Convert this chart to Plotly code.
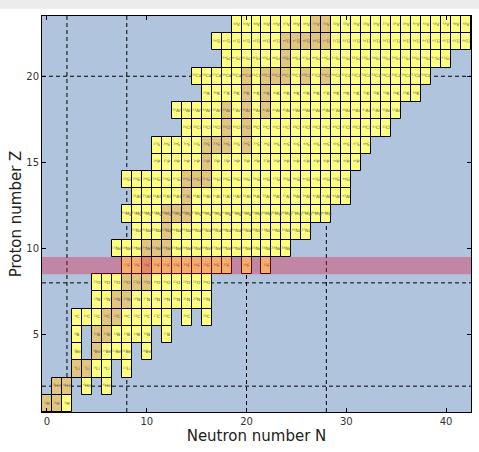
import plotly.graph_objects as go

# ---- data ----
symbols = ["H", "He", "Li", "Be", "B", "C", "N", "O", "F", "Ne", "Na", "Mg",
           "Al", "Si", "P", "S", "Cl", "Ar", "K", "Ca", "Sc", "Ti", "V"]
proton_Z = list(range(1, 24))
# first and last neutron number drawn in each row
n_first = [0, 1, 3, 3, 3, 3, 5, 5, 8, 7, 9, 8, 9, 8, 11, 11, 14, 13, 16, 15, 18, 17, 19]
n_last = [2, 6, 8, 10, 12, 16, 16, 16, 22, 24, 26, 28, 30, 30, 31, 32, 34, 35, 37, 38, 40, 42, 42]
# neutron numbers missing inside a row (gaps)
n_missing = {
    "He": [3, 5],
    "Li": [7],
    "Be": [4, 9],
    "B": [4, 11],
    "C": [13, 15],
    "F": [19, 21],
}
# stable isotopes (tan cells), by neutron number
n_stable = {
    "H": [0, 1], "He": [1, 2], "Li": [3, 4], "Be": [5], "B": [5, 6],
    "C": [6, 7], "N": [7, 8], "O": [8, 9, 10], "F": [10], "Ne": [10, 11, 12],
    "Na": [12], "Mg": [12, 13, 14], "Al": [14], "Si": [14, 15, 16], "P": [16],
    "S": [16, 17, 18, 20], "Cl": [18, 20], "Ar": [18, 20, 22], "K": [20, 22],
    "Ca": [20, 22, 23, 24, 26, 28], "Sc": [24], "Ti": [24, 25, 26, 27, 28],
    "V": [27, 28],
}
magic_numbers = [2, 8, 20, 28]
highlight_Z = 9

SUP = str.maketrans("0123456789", "⁰¹²³⁴⁵⁶⁷⁸⁹")

# ---- build cells ----
cell_N, cell_Z, cell_col, cell_txt = [], [], [], []
YELLOW = "#ffff80"
TAN = "#e2c67f"
for sym, z, a, b in zip(symbols, proton_Z, n_first, n_last):
    for n in range(a, b + 1):
        if n in n_missing.get(sym, []):
            continue
        cell_N.append(n)
        cell_Z.append(z)
        cell_col.append(TAN if n in n_stable.get(sym, []) else YELLOW)
        cell_txt.append(str(n + z).translate(SUP) + sym)

fig = go.Figure()
fig.add_trace(go.Bar(
    orientation="h",
    y=cell_Z,
    x=[1] * len(cell_N),
    base=[n - 0.5 for n in cell_N],
    width=1,
    marker=dict(color=cell_col, line=dict(color="black", width=1)),
    hoverinfo="skip",
    showlegend=False,
))
fig.add_trace(go.Scatter(
    x=cell_N, y=cell_Z, mode="text", text=cell_txt,
    textfont=dict(size=4.5, color="#555555", family="DejaVu Sans"),
    hoverinfo="skip", showlegend=False,
))

shapes = []
for m in magic_numbers:
    shapes.append(dict(type="line", xref="x", yref="paper", x0=m, x1=m, y0=0, y1=1,
                       line=dict(color="black", width=1, dash="4px,3px"), layer="below"))
    shapes.append(dict(type="line", xref="paper", yref="y", x0=0, x1=1, y0=m, y1=m,
                       line=dict(color="black", width=1, dash="4px,3px"), layer="below"))
shapes.append(dict(type="rect", xref="paper", yref="y", x0=0, x1=1,
                   y0=highlight_Z - 0.5, y1=highlight_Z + 0.5,
                   fillcolor="rgba(230,20,60,0.35)", line=dict(width=0), layer="above"))
shapes.append(dict(type="rect", xref="paper", yref="paper", x0=-0.2, x1=1.2,
                   y0=1.018, y1=1.1, fillcolor="#ececec", line=dict(width=0), layer="above"))

fig.update_layout(
    width=479, height=452,
    margin=dict(l=42, r=8, t=16, b=40),
    paper_bgcolor="white",
    plot_bgcolor="#b0c4de",
    barmode="overlay",
    bargap=0,
    shapes=shapes,
    font=dict(family="DejaVu Sans", color="#222222"),
    xaxis=dict(range=[-0.5, 42.5], tickvals=[0, 10, 20, 30, 40], ticks="inside",
               ticklen=4, tickcolor="black", mirror="ticks", showline=True,
               linecolor="black", linewidth=1, showgrid=False, zeroline=False,
               tickfont=dict(size=10, color="#333333"),
               title=dict(text="Neutron number N", font=dict(size=15, color="#222222"),
                          standoff=4)),
    yaxis=dict(range=[0.5, 23.5], tickvals=[5, 10, 15, 20], ticks="inside",
               ticklen=4, tickcolor="black", mirror="ticks", showline=True,
               linecolor="black", linewidth=1, showgrid=False, zeroline=False,
               tickfont=dict(size=10, color="#333333"),
               title=dict(text="Proton number Z", font=dict(size=15, color="#222222"),
                          standoff=1)),
)

fig.write_html("out.html")
